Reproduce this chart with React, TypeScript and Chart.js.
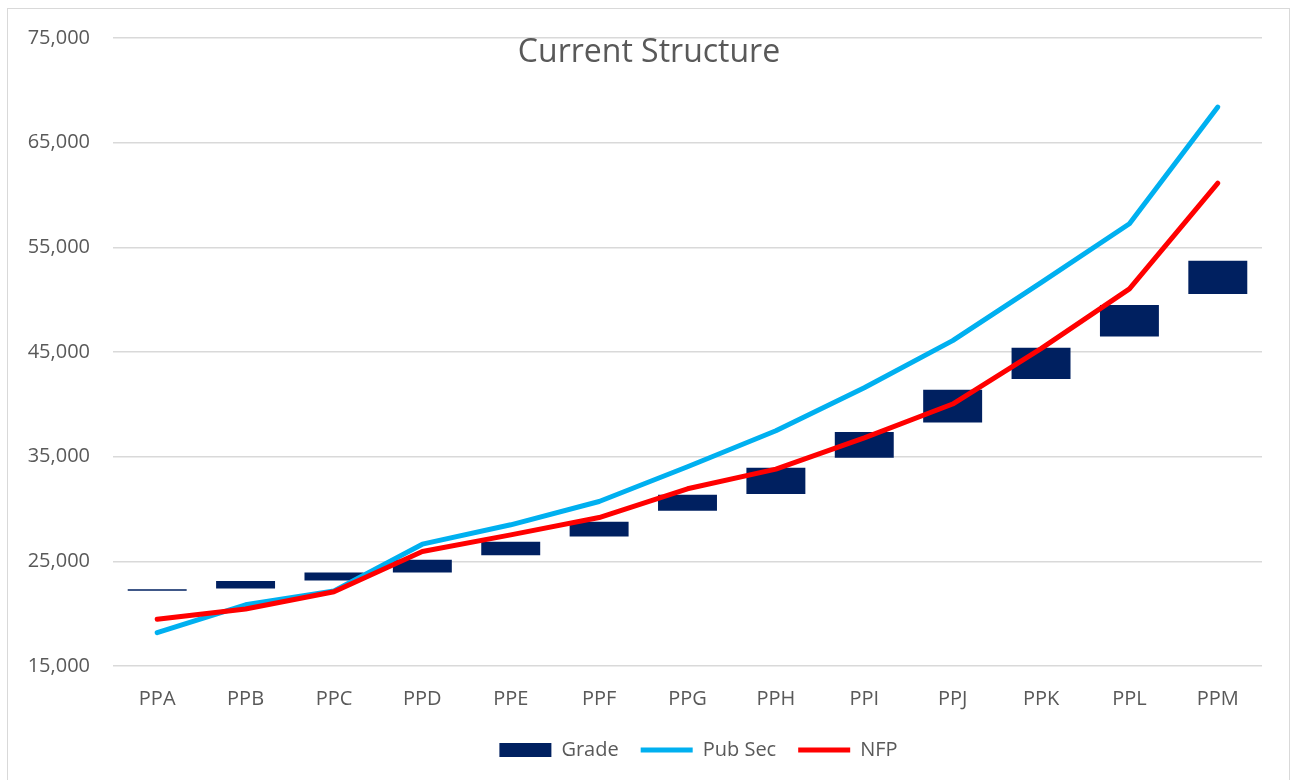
import React, { useEffect, useRef } from "react";
import { Chart, registerables } from "chart.js";

Chart.register(...registerables);

const categories = ["PPA", "PPB", "PPC", "PPD", "PPE", "PPF", "PPG", "PPH", "PPI", "PPJ", "PPK", "PPL", "PPM"];
const gradeLow = [22180, 22400, 23160, 23925, 25590, 27370, 29825, 31425, 34895, 38270, 42420, 46470, 50550];
const gradeHigh = [22330, 23130, 23925, 25140, 26860, 28775, 31355, 33940, 37355, 41400, 45415, 49500, 53710];
const pubSec = [18185, 20850, 22175, 26640, 28490, 30715, 34035, 37475, 41590, 46085, 51635, 57250, 68400];
const nfp = [19470, 20450, 22100, 25935, 27530, 29185, 31930, 33815, 36790, 40030, 45320, 51030, 61130];
const yMin = 15000;
const yMax = 75000;
const yStep = 10000;
const titleText = "Current Structure";

const FONT = "'Open Sans', 'Noto Sans', sans-serif";
const TEXT = "#595959";

const titlePlugin = {
  id: "overlayTitle",
  afterLayout(chart: any) {
    if (chart.legend) {
      chart.legend.left += 11;
      chart.legend.right += 11;
    }
  },
  afterDraw(chart: any) {
    const ctx = chart.ctx;
    ctx.save();
    ctx.font = `32px ${FONT}`;
    ctx.fillStyle = TEXT;
    ctx.textAlign = "center";
    ctx.textBaseline = "middle";
    ctx.fillText(titleText, chart.width / 2 + 2.5, 53);
    ctx.restore();
  },
};

export default function App() {
  const ref = useRef<HTMLCanvasElement | null>(null);
  useEffect(() => {
    if (!ref.current) return;
    const chart = new Chart(ref.current, {
      type: "bar",
      data: {
        labels: categories,
        datasets: [
          {
            type: "bar",
            label: "Grade",
            data: gradeLow.map((lo, i) => [lo, gradeHigh[i]]),
            backgroundColor: "#002060",
            borderWidth: 0,
            borderSkipped: false,
            barPercentage: 1,
            categoryPercentage: 0.667,
            pointStyle: "rect",
            order: 3,
          } as any,
          {
            type: "line",
            label: "Pub Sec",
            data: pubSec,
            borderColor: "#00B0F0",
            backgroundColor: "#00B0F0",
            borderWidth: 5,
            pointRadius: 0,
            pointHoverRadius: 0,
            borderCapStyle: "round",
            borderJoinStyle: "round",
            tension: 0,
            pointStyle: "line",
            order: 2,
          } as any,
          {
            type: "line",
            label: "NFP",
            data: nfp,
            borderColor: "#FF0000",
            backgroundColor: "#FF0000",
            borderWidth: 5,
            pointRadius: 0,
            pointHoverRadius: 0,
            borderCapStyle: "round",
            borderJoinStyle: "round",
            tension: 0,
            pointStyle: "line",
            order: 1,
          } as any,
        ],
      },
      options: {
        animation: false,
        responsive: false,
        maintainAspectRatio: false,
        layout: { padding: { top: 38, right: 31, bottom: 10, left: 0 } },
        plugins: {
          title: { display: false },
          tooltip: { enabled: false },
          legend: {
            display: true,
            position: "bottom",
            fullSize: false,
            labels: {
              usePointStyle: true,
              pointStyleWidth: 52,
              boxHeight: 14,
              padding: 22,
              color: TEXT,
              font: { family: FONT, size: 20 },
              sort: (a: any, b: any) => a.datasetIndex - b.datasetIndex,
            },
          },
        },
        scales: {
          x: {
            grid: { display: false, drawTicks: false },
            border: { display: false },
            ticks: { color: TEXT, font: { family: FONT, size: 20 }, padding: 21, maxRotation: 0 },
            afterFit: (s: any) => { s.height = 52; },
          },
          y: {
            min: yMin,
            max: yMax,
            grid: { color: "#d9d9d9", lineWidth: 1.5, drawTicks: false },
            border: { display: false },
            ticks: {
              stepSize: yStep,
              color: TEXT,
              font: { family: FONT, size: 20 },
              padding: 23,
              callback: (v: any) => Number(v).toLocaleString("en-US"),
            },
            afterFit: (s: any) => { s.width = 113; },
          },
        },
      },
      plugins: [titlePlugin],
    });
    return () => chart.destroy();
  }, []);

  return (
    <div style={{ position: "fixed", left: 0, top: 0, width: 1293, height: 780, background: "#fff" }}>
      <div
        style={{
          position: "absolute",
          left: 7,
          top: 8,
          width: 1283,
          height: 780,
          border: "1px solid #d9d9d9",
          boxSizing: "border-box",
        }}
      />
      <canvas ref={ref} width={1293} height={780} style={{ position: "absolute", left: 0, top: 0, width: 1293, height: 780 }} />
    </div>
  );
}
